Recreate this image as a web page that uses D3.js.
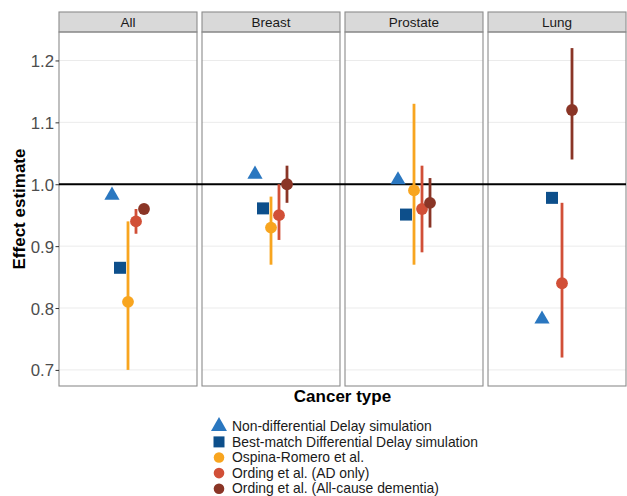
<!DOCTYPE html>
<html>
<head>
<meta charset="utf-8">
<script src="https://cdn.jsdelivr.net/npm/d3@7"></script>
<style>
  body { margin: 0; background: #fff; }
  svg { display: block; font-family: "Liberation Sans", Arial, sans-serif; }
</style>
</head>
<body>
<div id="chart"></div>
<script>
const svgWidth = 627;
const svgHeight = 496;

// data
const cancerTypes = ["All", "Breast", "Prostate", "Lung"];
const seriesNames = [
    "Non-differential Delay simulation",
    "Best-match Differential Delay simulation",
    "Ospina-Romero et al.",
    "Ording et al. (AD only)",
    "Ording et al. (All-cause dementia)"
];
const seriesColors = ["#2a77c0", "#0d4f8b", "#f8a51f", "#d14f37", "#8a3526"];
const seriesShapes = ["triangle", "square", "circle", "circle", "circle"];

const nonDiffEst   = [0.982, 1.016, 1.007, 0.782];
const bestMatchEst = [0.865, 0.961, 0.951, 0.978];
const ospinaEst    = [0.81, 0.93, 0.99, null];
const ospinaLow    = [0.70, 0.87, 0.87, null];
const ospinaHigh   = [0.94, 0.98, 1.13, null];
const ordingAdEst  = [0.94, 0.95, 0.96, 0.84];
const ordingAdLow  = [0.92, 0.91, 0.89, 0.72];
const ordingAdHigh = [0.96, 1.00, 1.03, 0.97];
const ordingAllEst  = [0.96, 1.00, 0.97, 1.12];
const ordingAllLow  = [0.96, 0.97, 0.93, 1.04];
const ordingAllHigh = [0.96, 1.03, 1.01, 1.22];

const yTicks = [0.7, 0.8, 0.9, 1.0, 1.1, 1.2];

const seriesData = [
    { est: nonDiffEst },
    { est: bestMatchEst },
    { est: ospinaEst, low: ospinaLow, high: ospinaHigh },
    { est: ordingAdEst, low: ordingAdLow, high: ordingAdHigh },
    { est: ordingAllEst, low: ordingAllLow, high: ordingAllHigh }
];

// flatten to rows, with dodge index per facet
const rows = [];
cancerTypes.forEach((ct, ci) => {
    const present = seriesData.map((s, si) => si).filter(si => seriesData[si].est[ci] != null);
    present.forEach((si, k) => {
        const s = seriesData[si];
        rows.push({
            type: ct, series: si, k: k, n: present.length,
            est: s.est[ci],
            low: s.low ? s.low[ci] : null,
            high: s.high ? s.high[ci] : null
        });
    });
});

const panel = { left: 59, right: 626, top: 32, bottom: 386, stripTop: 12 };

const svg = d3.select("#chart").append("svg")
    .attr("width", svgWidth)
    .attr("height", svgHeight);

const x = d3.scaleBand()
    .domain(cancerTypes)
    .range([panel.left, panel.right])
    .paddingInner(0.035);

const dodgeWidth = 40;
const xPos = d => x(d.type) + x.bandwidth() / 2 + (d.k - (d.n - 1) / 2) * dodgeWidth / d.n;

const allVals = rows.flatMap(d => [d.est, d.low, d.high]).filter(v => v != null);
const lo = d3.min(allVals), hi = d3.max(allVals), pad = (hi - lo) * 0.05;
const y = d3.scaleLinear().domain([lo - pad, hi + pad]).range([panel.bottom, panel.top]);

// panels
const panels = svg.append("g").selectAll("g")
    .data(cancerTypes)
    .enter().append("g")
    .attr("transform", d => `translate(${x(d)},0)`);

panels.selectAll("line.grid")
    .data(yTicks)
    .enter().append("line")
    .attr("class", "grid")
    .attr("x1", 0).attr("x2", x.bandwidth())
    .attr("y1", d => y(d)).attr("y2", d => y(d))
    .attr("stroke", "#ebebeb")
    .attr("stroke-width", 1);

panels.append("rect")
    .attr("x", 0).attr("y", panel.stripTop)
    .attr("width", x.bandwidth()).attr("height", panel.top - panel.stripTop)
    .attr("fill", "#d9d9d9")
    .attr("stroke", "#8c8c8c")
    .attr("stroke-width", 1.1);

panels.append("text")
    .attr("x", x.bandwidth() / 2)
    .attr("y", (panel.stripTop + panel.top) / 2 + 5)
    .attr("text-anchor", "middle")
    .attr("font-size", 13.5)
    .attr("fill", "#1a1a1a")
    .text(d => d);

// reference line at 1
svg.append("line")
    .attr("x1", panel.left).attr("x2", panel.right)
    .attr("y1", y(1)).attr("y2", y(1))
    .attr("stroke", "#000")
    .attr("stroke-width", 1.8);

// error bars
svg.append("g").selectAll("line")
    .data(rows.filter(d => d.low != null))
    .enter().append("line")
    .attr("x1", xPos).attr("x2", xPos)
    .attr("y1", d => y(d.low)).attr("y2", d => y(d.high))
    .attr("stroke", d => seriesColors[d.series])
    .attr("stroke-width", 2.8);

const symbolFor = shape => shape === "triangle" ? d3.symbol(d3.symbolTriangle, 100)
    : shape === "square" ? d3.symbol(d3.symbolSquare, 144)
    : d3.symbol(d3.symbolCircle, Math.PI * 5.9 * 5.9);

svg.append("g").selectAll("path")
    .data(rows)
    .enter().append("path")
    .attr("transform", d => `translate(${xPos(d)},${y(d.est)})`)
    .attr("d", d => symbolFor(seriesShapes[d.series])())
    .attr("fill", d => seriesColors[d.series]);

// panel borders on top
panels.append("rect")
    .attr("x", 0).attr("y", panel.top)
    .attr("width", x.bandwidth()).attr("height", panel.bottom - panel.top)
    .attr("fill", "none")
    .attr("stroke", "#8c8c8c")
    .attr("stroke-width", 1.1);

// y axis
const yAxis = svg.append("g")
    .attr("transform", `translate(${panel.left},0)`)
    .call(d3.axisLeft(y).tickValues(yTicks).tickFormat(d3.format(".1f")).tickSize(3.5).tickPadding(1.5));
yAxis.select(".domain").remove();
yAxis.selectAll(".tick line").attr("stroke", "#333");
yAxis.selectAll(".tick text")
    .attr("font-size", 16.8)
    .attr("font-family", "Liberation Sans, Arial, sans-serif")
    .attr("fill", "#4d4d4d")
    .attr("dy", "0.36em");

svg.append("text")
    .attr("transform", `translate(25,${(panel.top + panel.bottom) / 2}) rotate(-90)`)
    .attr("text-anchor", "middle")
    .attr("font-size", 17)
    .attr("font-weight", "bold")
    .text("Effect estimate");

svg.append("text")
    .attr("x", (panel.left + panel.right) / 2)
    .attr("y", 402)
    .attr("text-anchor", "middle")
    .attr("font-size", 17)
    .attr("font-weight", "bold")
    .text("Cancer type");

// legend
const legend = svg.append("g").attr("transform", "translate(219,426.3)");
const items = legend.selectAll("g")
    .data(seriesNames)
    .enter().append("g")
    .attr("transform", (d, i) => `translate(0,${i * 15.6})`);
items.append("path")
    .attr("d", (d, i) => seriesShapes[i] === "triangle" ? d3.symbol(d3.symbolTriangle, 110)()
        : seriesShapes[i] === "square" ? d3.symbol(d3.symbolSquare, 121)()
        : d3.symbol(d3.symbolCircle, Math.PI * 5.3 * 5.3)())
    .attr("fill", (d, i) => seriesColors[i]);
items.append("text")
    .attr("x", 13)
    .attr("y", 4.6)
    .attr("font-size", 13.9)
    .attr("fill", "#1a1a1a")
    .text(d => d);
</script>
</body>
</html>
